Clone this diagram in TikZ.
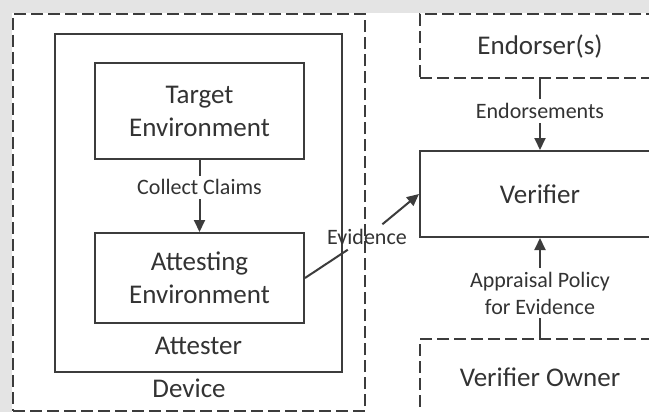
\documentclass[tikz,border=0pt]{standalone}
\usepackage{fontspec}
\setmainfont{Carlito}
\usepackage{tikz}
\usetikzlibrary{arrows.meta,positioning}
\definecolor{linegrey}{HTML}{3C3C3C}
\definecolor{textgrey}{HTML}{333333}
\definecolor{bggrey}{HTML}{E4E4E4}

\begin{document}
\begin{tikzpicture}[x=0.5pt,y=-0.5pt,->,>={Triangle[length=6pt,width=5.5pt]},
                    color=linegrey,line width=1pt,
                    solidbox/.style={draw=linegrey,line width=1pt,align=center,text=textgrey,
                                     font=\fontsize{13.5}{16.5}\selectfont},
                    dashbox/.style={solidbox,dash pattern=on 6pt off 2.5pt},
                    tag/.style={text=textgrey,inner sep=2pt,font=\fontsize{13.5}{16.5}\selectfont},
                    lbl/.style={fill=white,text=textgrey,inner sep=2pt,align=center,
                                font=\fontsize{11}{13.5}\selectfont}]

    \useasboundingbox (0,0) rectangle (649,412);
    \clip (0,0) rectangle (649,412);
    \fill[white] (0,0) rectangle (649,412);
    \fill[bggrey] (0,0) rectangle (649,13);
    \fill[bggrey] (0,0) rectangle (12,412);

    \node[dashbox, minimum width=176pt, minimum height=198.5pt] (device) at (189,212.5) {};
    \node[tag] (devicelbl) at (189,388) {Device};
    \node[solidbox, minimum width=143.5pt, minimum height=169pt] (attester) at (198.5,203) {};
    \node[tag] (attesterlbl) at (198.5,346) {Attester};

    \node[solidbox, minimum width=104.5pt, minimum height=48pt] (target) at (199.5,111) {Target\\Environment};
    \node[solidbox, minimum width=104.5pt, minimum height=45pt] (attesting) at (199.5,278) {Attesting\\Environment};

    \node[dashbox, minimum width=120pt, minimum height=32pt] (endorser) at (540,46) {Endorser(s)};
    \node[solidbox, minimum width=120pt, minimum height=43pt] (verifier) at (540,194) {Verifier};
    \node[dashbox, minimum width=120pt, minimum height=38pt] (owner) at (540,377) {Verifier Owner};

    \node[lbl, fill=none] (evidence) at (367,237) {Evidence};

    \begin{scope}
      \path (target)   edge node[lbl, pos=0.38] {Collect Claims} (attesting)
            (endorser) edge node[lbl, pos=0.45] {Endorsements} (verifier)
            (owner)    edge node[lbl, pos=0.45] {Appraisal Policy\\for Evidence} (verifier)
            (attesting.east) edge[-] (evidence)
            (evidence) edge (verifier.west);
    \end{scope}
\end{tikzpicture}
\end{document}
